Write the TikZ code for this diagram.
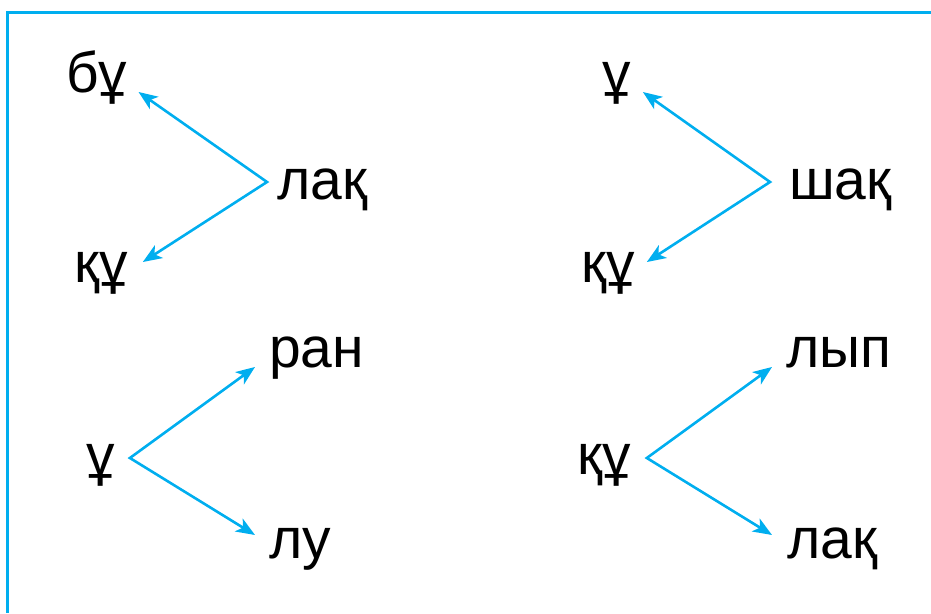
\documentclass[tikz,border=0pt]{standalone}
\usepackage{fontspec}
\usepackage{tikz}
\usetikzlibrary{arrows.meta,positioning}
\newfontfamily\wordfont{Liberation Sans}
\definecolor{linkblue}{RGB}{0,174,239}
\tikzset{
  word/.style={
    anchor = base west,
    inner sep = 0pt,
    font = \wordfont\fontsize{57}{68}\selectfont
  },
  link/.style={
    draw = linkblue,
    line width = 2.6pt,
    {Stealth[length=19pt,width=15pt,inset=5pt]}-{Stealth[length=19pt,width=15pt,inset=5pt]}
  },
  frame/.style={
    draw = linkblue,
    line width = 2.5pt
  }
}

\begin{document}
\begin{tikzpicture}[x=1pt,y=1pt]
  \useasboundingbox (0,0) rectangle (931,613);
  \draw[frame] (7.5,0) -- (7.5,600.5) -- (931,600.5);

  % upper left
  \node[word] (buA) at (66,520) {бұ};
  \node[word] (lakA) at (277,413) {лақ};
  \node[word] (quA) at (74,330) {құ};
  \draw[link] ([shift={(11pt,1pt)}]buA.base east)
    -- ([shift={(-10pt,18pt)}]lakA.base west)
    -- ([shift={(15pt,21pt)}]quA.base east);

  % upper right
  \node[word] (uB) at (602,520) {ұ};
  \node[word] (shak) at (789,413) {шақ};
  \node[word] (quB) at (581,330) {құ};
  \draw[link] ([shift={(12pt,1pt)}]uB.base east)
    -- ([shift={(-19pt,18pt)}]shak.base west)
    -- ([shift={(12pt,21pt)}]quB.base east);

  % lower left
  \node[word] (uC) at (86,138) {ұ};
  \node[word] (ran) at (269,245) {ран};
  \node[word] (lu) at (269,55) {лу};
  \draw[link] ([shift={(-14pt,1pt)}]ran.base west)
    -- ([shift={(15pt,17pt)}]uC.base east)
    -- ([shift={(-14pt,23pt)}]lu.base west);

  % lower right
  \node[word] (quC) at (577,138) {құ};
  \node[word] (lyp) at (786,245) {лып};
  \node[word] (lakB) at (787,55) {лақ};
  \draw[link] ([shift={(-14pt,1pt)}]lyp.base west)
    -- ([shift={(16pt,17pt)}]quC.base east)
    -- ([shift={(-15pt,23pt)}]lakB.base west);
\end{tikzpicture}
\end{document}
